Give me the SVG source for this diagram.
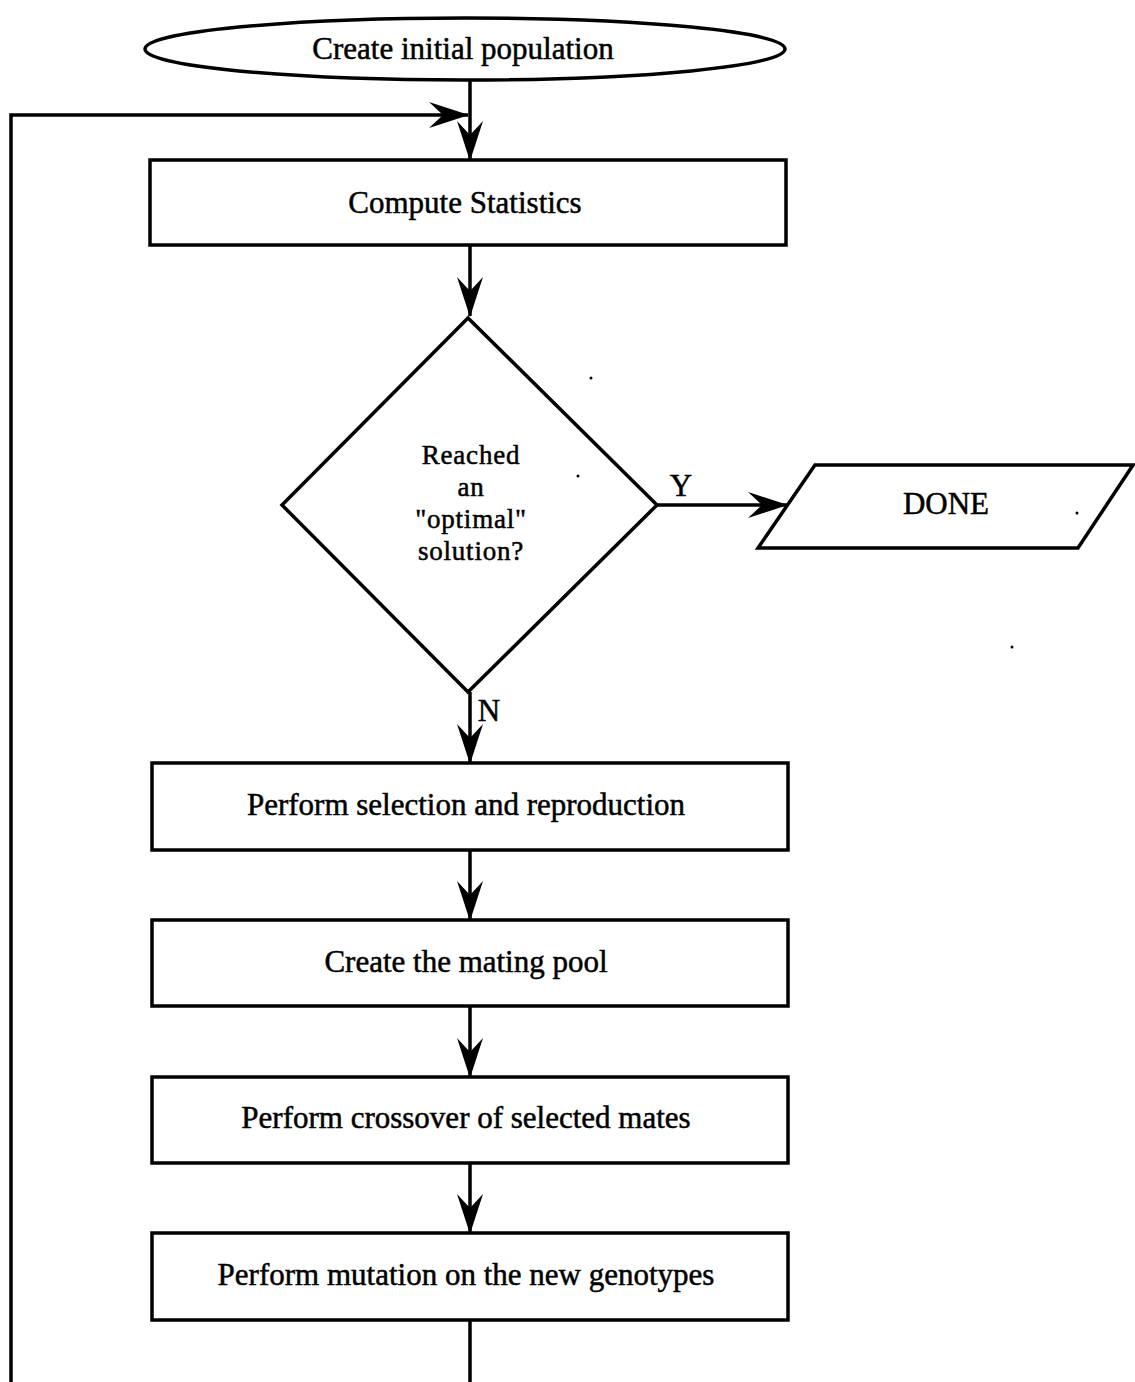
<svg xmlns="http://www.w3.org/2000/svg" width="1135" height="1382" viewBox="0 0 1135 1382">
  <style>
    .shape { fill: #fff; stroke: #000; stroke-width: 3.5; stroke-linejoin: miter; }
    .label { font-family: "Liberation Serif", "Times New Roman", serif; font-size: 31px; fill: #000; stroke: #000; stroke-width: 0.5; text-anchor: middle; }
    .question { font-size: 27px; letter-spacing: 0.8px; }
    .flow { fill: none; stroke: #000; stroke-width: 3.5; }
    .speck { fill: #000; }
  </style>
  <defs>
    <!-- swept-back dart arrowhead -->
    <marker id="dart" markerUnits="userSpaceOnUse" viewBox="-40 -14 42 28" refX="0" refY="0" markerWidth="42" markerHeight="28" orient="auto">
      <path d="M1,0 L-39,-13 L-25,0 L-39,13 Z" fill="#000"/>
    </marker>
  </defs>

  <rect width="1135" height="1382" fill="#fff"/>

  <!-- connectors -->
  <g id="connectors">
    <path class="flow" d="M470,80 L470,160" marker-end="url(#dart)"/>
    <path class="flow" d="M11,1382 L11,115 L468,115" marker-end="url(#dart)"/>
    <path class="flow" d="M470,245 L470,316" marker-end="url(#dart)"/>
    <path class="flow" d="M657,505 L787,505" marker-end="url(#dart)"/>
    <path class="flow" d="M470,692 L470,763" marker-end="url(#dart)"/>
    <path class="flow" d="M470,850 L470,920" marker-end="url(#dart)"/>
    <path class="flow" d="M470,1006 L470,1077" marker-end="url(#dart)"/>
    <path class="flow" d="M470,1163 L470,1233" marker-end="url(#dart)"/>
    <path class="flow" d="M470,1320 L470,1382"/>
    <text class="label" x="681" y="496">Y</text>
    <text class="label" x="489" y="721">N</text>
  </g>

  <g id="start">
    <ellipse class="shape" cx="465" cy="49" rx="320" ry="31"/>
    <text class="label" x="463" y="59">Create initial population</text>
  </g>

  <g id="stats">
    <rect class="shape" x="150" y="160" width="636" height="85"/>
    <text class="label" x="465" y="213">Compute Statistics</text>
  </g>

  <g id="decision">
    <polygon class="shape" points="468,318 657,505 468,692 282,505"/>
    <text class="label question" x="471" y="464">Reached</text>
    <text class="label question" x="471" y="496">an</text>
    <text class="label question" x="471" y="528">"optimal"</text>
    <text class="label question" x="471" y="560">solution?</text>
  </g>

  <g id="done">
    <polygon class="shape" points="815,465 1133,465 1078,548 758,548"/>
    <text class="label" x="946" y="514">DONE</text>
  </g>

  <g id="selection">
    <rect class="shape" x="152" y="763" width="636" height="87"/>
    <text class="label" x="466" y="815">Perform selection and reproduction</text>
  </g>

  <g id="mating">
    <rect class="shape" x="152" y="920" width="636" height="86"/>
    <text class="label" x="466" y="972">Create the mating pool</text>
  </g>

  <g id="crossover">
    <rect class="shape" x="152" y="1077" width="636" height="86"/>
    <text class="label" x="466" y="1128">Perform crossover of selected mates</text>
  </g>

  <g id="mutation">
    <rect class="shape" x="152" y="1233" width="636" height="87"/>
    <text class="label" x="466" y="1285">Perform mutation on the new genotypes</text>
  </g>

  <!-- stray print specks -->
  <g id="specks">
    <circle class="speck" cx="591" cy="378" r="1.5"/>
    <circle class="speck" cx="578" cy="476" r="1.5"/>
    <circle class="speck" cx="1077" cy="513" r="1.5"/>
    <circle class="speck" cx="1012" cy="647" r="1.5"/>
  </g>
</svg>
